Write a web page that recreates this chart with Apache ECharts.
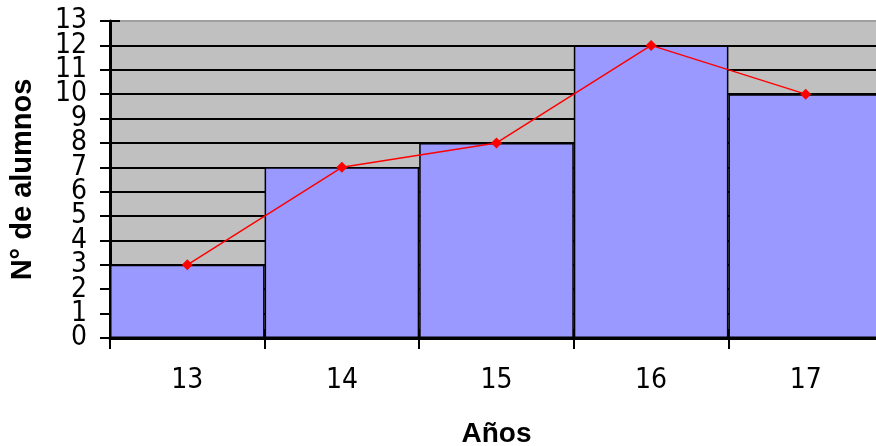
<!DOCTYPE html>
<html>
<head>
<meta charset="utf-8">
<script src="https://cdn.jsdelivr.net/npm/echarts@6/dist/echarts.min.js"></script>
<style>
  html, body { margin: 0; padding: 0; background: #fff; }
  #chart { width: 876px; height: 446px; }
</style>
</head>
<body>
<div id="chart"></div>
<script>
// Students per age: histogram bars with a frequency polygon on top
const ages = ['13', '14', '15', '16', '17'];
const students = [3, 7, 8, 12, 10];
const yMin = 0;
const yMax = 13;

const labelFont = "'Liberation Sans Narrow', 'DejaVu Sans Condensed', 'Liberation Sans', sans-serif";
const titleFont = "'Liberation Sans', Arial, sans-serif";

// gridlines: black, except the top one which is grey
const gridColors = [];
for (let v = yMin; v <= yMax; v++) gridColors.push(v === yMax ? '#a0a0a0' : '#000');

const yLabelStyle = { fontFamily: labelFont, fontSize: 28, color: '#000', margin: 23, hideOverlap: false };

const chart = echarts.init(document.getElementById('chart'), null, { renderer: 'canvas' });
chart.setOption({
  animation: false,
  backgroundColor: '#fff',
  grid: {
    left: 110, right: -7, top: 21, bottom: 108,
    outerBoundsMode: 'none', containLabel: false,
    show: true, backgroundColor: '#c0c0c0', borderWidth: 0
  },
  xAxis: [
    {
      type: 'category', data: ages, boundaryGap: true,
      name: 'Años', nameLocation: 'middle', nameGap: 82,
      nameTextStyle: { fontFamily: titleFont, fontWeight: 'bold', fontSize: 28, color: '#000', verticalAlign: 'top' },
      axisLine: { lineStyle: { color: '#000', width: 3 } },
      axisTick: { show: true, length: 11, lineStyle: { color: '#000', width: 2 } },
      axisLabel: { fontFamily: labelFont, fontSize: 28, color: '#000', margin: 29 },
      splitLine: { show: false }
    },
    {
      type: 'category', data: ages, boundaryGap: true, position: 'bottom',
      axisLine: { show: false },
      axisTick: { show: true, inside: true, length: 9, lineStyle: { color: '#000', width: 2 } },
      axisLabel: { show: false },
      splitLine: { show: false }
    }
  ],
  yAxis: [
    // main axis: line, gridlines and the inner labels 1..12
    {
      type: 'value', min: yMin, max: yMax, interval: 1,
      name: 'N° de alumnos', nameLocation: 'middle', nameGap: 73,
      nameTextStyle: { fontFamily: titleFont, fontWeight: 'bold', fontSize: 29, color: '#000' },
      axisLine: { show: true, lineStyle: { color: '#000', width: 3 } },
      axisTick: { show: false },
      axisLabel: Object.assign({}, yLabelStyle, { showMinLabel: false, showMaxLabel: false }),
      splitLine: { show: true, lineStyle: { color: gridColors, width: 2 } }
    },
    // end labels 0 and 13, plus the inward half of each tick
    {
      type: 'value', min: yMin, max: yMax, interval: 1, position: 'left',
      axisLine: { show: false },
      axisTick: { show: true, inside: true, length: 10, lineStyle: { color: '#000', width: 2 } },
      axisLabel: Object.assign({}, yLabelStyle, {
        showMinLabel: true, showMaxLabel: true,
        formatter: v => (v === yMin || v === yMax) ? String(v) : ''
      }),
      splitLine: { show: false }
    },
    // outward half of each tick
    {
      type: 'value', min: yMin, max: yMax, interval: 1, position: 'left',
      axisLine: { show: false },
      axisTick: { show: true, length: 10, lineStyle: { color: '#000', width: 2 } },
      axisLabel: { show: false },
      splitLine: { show: false }
    }
  ],
  series: [
    {
      type: 'bar', data: students, barWidth: '100%', barGap: '0%',
      itemStyle: { color: '#9999ff', borderColor: '#000', borderWidth: 1.5 },
      z: 2
    },
    {
      type: 'line', data: students,
      symbol: 'diamond', symbolSize: 11,
      lineStyle: { color: '#ff0000', width: 1.5 },
      itemStyle: { color: '#ff0000' },
      z: 3
    }
  ]
});
</script>
</body>
</html>
